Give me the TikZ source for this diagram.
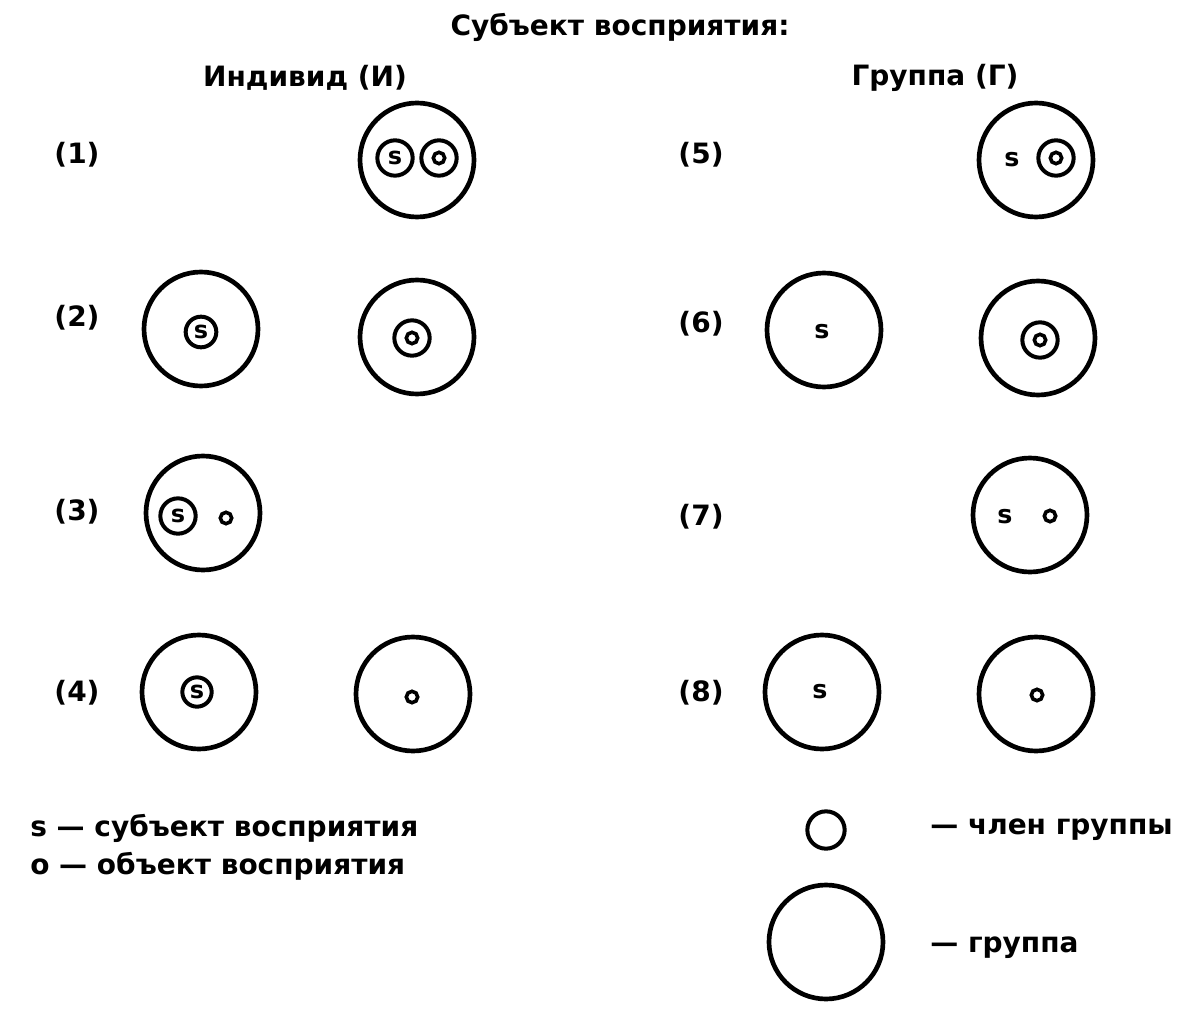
\documentclass[tikz,border=0pt]{standalone}
\usepackage{fontspec}
\setmainfont{DejaVu Sans}
\begin{document}
\begin{tikzpicture}[x=0.75pt,y=-0.75pt,
  txt/.style={font=\fontsize{21pt}{25pt}\selectfont\bfseries,inner sep=0pt},
  stxt/.style={font=\fontsize{19pt}{22pt}\selectfont\bfseries,inner sep=0pt},
  grp/.style={circle,draw,line width=3.5pt,minimum size=85.5pt,inner sep=0pt},
  mem/.style={circle,draw,line width=3pt,minimum size=26.5pt,inner sep=0pt,font=\fontsize{18pt}{21pt}\selectfont\bfseries},
  dot/.style={circle,draw,line width=2.7pt,minimum size=8.5pt,inner sep=0pt},
  lmem/.style={circle,draw,line width=3pt,minimum size=28pt,inner sep=0pt}]
\useasboundingbox (0,0) rectangle (1192,1016);
% headers
\node[txt] (title) at (620,27) {Субъект восприятия:};
\node[txt] (hi) at (305,78) {Индивид (И)};
\node[txt] (hg) at (935,78) {Группа (Г)};
% row labels
\node[txt] (l1) at (77,155) {(1)};
\node[txt] (l2) at (77,318) {(2)};
\node[txt] (l3) at (77,512) {(3)};
\node[txt] (l4) at (77,693) {(4)};
\node[txt] (l5) at (701,155) {(5)};
\node[txt] (l6) at (701,324) {(6)};
\node[txt] (l7) at (701,517) {(7)};
\node[txt] (l8) at (701,693) {(8)};
% (1)
\node[grp] (g1) at (417,160) {};
\node[mem] (s1) at (395,158) {s};
\node[mem] (o1) at (439,158) {};
\node[dot] (o1i) at (439,158) {};
% (2)
\node[grp] (g2a) at (201,329) {};
\node[mem,minimum size=23pt] (s2) at (201,332) {s};
\node[grp] (g2b) at (417,337) {};
\node[mem] (o2) at (412,338) {};
\node[dot] (o2i) at (412,338) {};
% (3)
\node[grp] (g3) at (203,513) {};
\node[mem] (s3) at (178,516) {s};
\node[dot] (o3) at (226,518) {};
% (4)
\node[grp] (g4a) at (199,692) {};
\node[mem,minimum size=22pt] (s4) at (197,692) {s};
\node[grp] (g4b) at (413,694) {};
\node[dot] (o4) at (412,697) {};
% (5)
\node[grp] (g5) at (1036,160) {};
\node[stxt] (s5) at (1012,160) {s};
\node[mem] (o5) at (1056,158) {};
\node[dot] (o5i) at (1056,158) {};
% (6)
\node[grp] (g6a) at (824,330) {};
\node[stxt] (s6) at (822,332) {s};
\node[grp] (g6b) at (1038,338) {};
\node[mem] (o6) at (1040,340) {};
\node[dot] (o6i) at (1040,340) {};
% (7)
\node[grp] (g7) at (1030,515) {};
\node[stxt] (s7) at (1005,517) {s};
\node[dot] (o7) at (1050,516) {};
% (8)
\node[grp] (g8a) at (822,692) {};
\node[stxt] (s8) at (820,692) {s};
\node[grp] (g8b) at (1036,694) {};
\node[dot] (o8) at (1037,695) {};
% legend left
\node[txt,anchor=west] (leg1) at (30,828) {s — субъект восприятия};
\node[txt,anchor=west] (leg2) at (30,866) {o — объект восприятия};
% legend right
\node[lmem] (lm) at (826,830) {};
\node[txt,anchor=west] (lmt) at (930,830) {— член группы};
\node[grp] (lg) at (826,942) {};
\node[txt,anchor=west] (lgt) at (930,948) {— группа};
\end{tikzpicture}
\end{document}
